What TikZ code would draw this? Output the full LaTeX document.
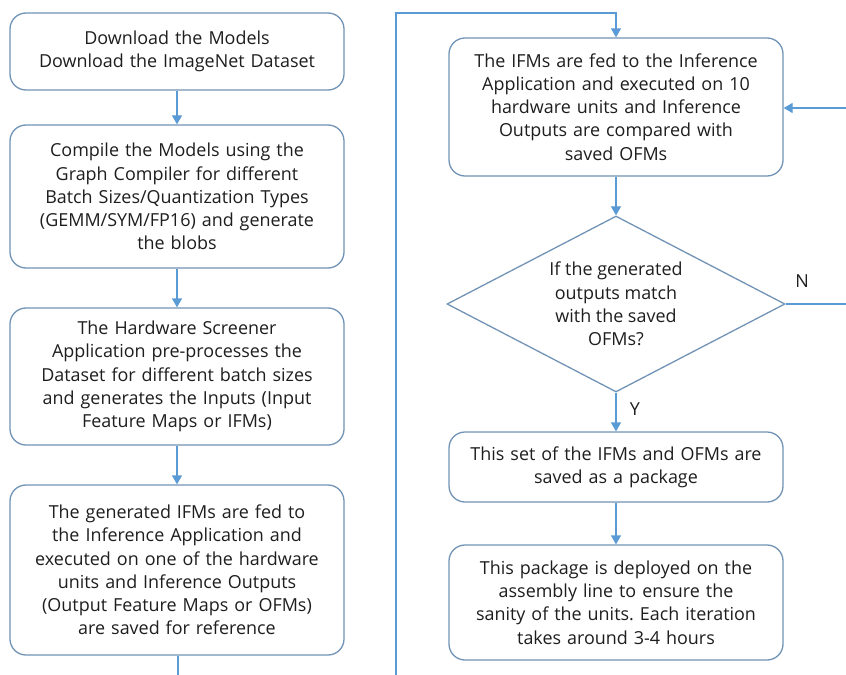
\documentclass[tikz,border=0pt]{standalone}
\usepackage{fontspec}
\setmainfont{Open Sans}
\usetikzlibrary{arrows.meta,shapes.geometric}
\definecolor{boxline}{HTML}{7193B5}
\definecolor{arrowline}{HTML}{5B9BD5}
\definecolor{txt}{HTML}{1E1E1E}
\frenchspacing
\begin{document}
\begin{tikzpicture}[x=1bp,y=-1bp,
  stepbox/.style={draw=boxline,line width=1.3bp,rounded corners=16bp,fill=white,
    minimum width=334bp,inner sep=0pt,text width=330bp,align=center,text=txt,
    font=\fontsize{18}{23.3}\selectfont},
  conn/.style={draw=arrowline,line width=1.3bp},
  arr/.style={conn,-{Triangle[length=9bp,width=10bp]}},
  lbl/.style={text=txt,font=\fontsize{18}{20}\selectfont}]
\useasboundingbox (0,0) rectangle (846,675);
\node[stepbox,minimum height=77bp] (b1) at (177,51.5) {Download the Models\\Download the ImageNet Dataset};
\node[stepbox,minimum height=143bp] (b2) at (177,196.5) {Compile the Models using the\\Graph Compiler for different\\Batch Sizes/Quantization Types\\(GEMM/SYM/FP16) and generate\\the blobs};
\node[stepbox,minimum height=137bp] (b3) at (177,376.5) {The Hardware Screener\\Application pre-processes the\\Dataset for different batch sizes\\and generates the Inputs (Input\\Feature Maps or IFMs)};
\node[stepbox,minimum height=170bp] (b4) at (177,570) {The generated IFMs are fed to\\the Inference Application and\\executed on one of the hardware\\units and Inference Outputs\\(Output Feature Maps or OFMs)\\are saved for reference};
\node[stepbox,minimum height=138bp] (b5) at (616,107) {The IFMs are fed to the Inference\\Application and executed on 10\\hardware units and Inference\\Outputs are compared with\\saved OFMs};
\node[draw=boxline,line width=1.3bp,diamond,minimum width=338bp,minimum height=176bp,inner sep=0pt] (d) at (616,304) {};
\node[text=txt,align=center,font=\fontsize{18}{23.3}\selectfont] (dt) at (616,304) {If the generated\\outputs match\\with the saved\\OFMs?};
\node[stepbox,minimum height=70bp] (b6) at (616,467) {This set of the IFMs and OFMs are\\saved as a package};
\node[stepbox,minimum height=115bp] (b7) at (616,602.5) {This package is deployed on the\\assembly line to ensure the\\sanity of the units. Each iteration\\takes around 3-4 hours};
\coordinate (c1) at (178,675);
\coordinate (c2) at (396,675);
\coordinate (c3) at (396,13);
\coordinate (c4) at (616,13);
\coordinate (r1) at (846,304);
\coordinate (r2) at (846,108);
\draw[arr] (b1) -- (b2);
\draw[arr] (b2) -- (b3);
\draw[arr] (b3) -- (b4);
\draw[conn] (b4.south -| c1) -- (c1);
\draw[arr] (c2) -- (c3) -- (c4) -- (b5.north);
\draw[arr] (b5) -- (d.north);
\draw[arr] (d.south) -- (b6.north);
\draw[arr] (b6) -- (b7);
\draw[conn] (d.east) -- (r1);
\draw[arr] (r2) -- (b5.east |- r2);
\node[lbl] (n) at (802,281) {N};
\node[lbl] (y) at (635,409) {Y};
\end{tikzpicture}
\end{document}
